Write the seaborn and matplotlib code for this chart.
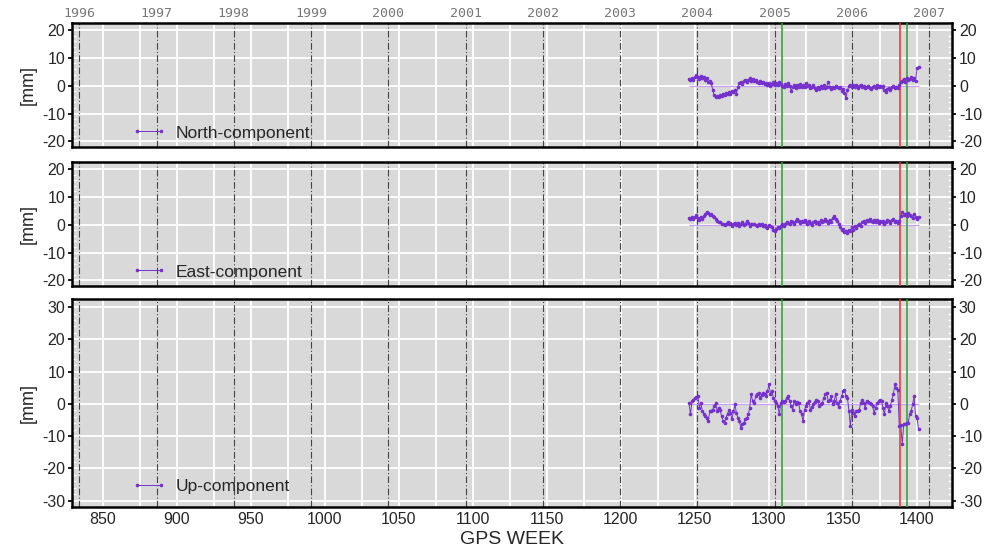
import matplotlib.pyplot as plt
import matplotlib as mpl
import numpy as np
import pandas as pd
import seaborn as sns
from matplotlib.ticker import MultipleLocator

# GPS weeks of the weekly solutions
first_week = 1246
last_week = 1401

north = [2.5, 2.0, 2.8, 2.2, 3.0, 3.8, 3.2, 2.5, 3.4, 2.8,
         3.0, 2.2, 2.6, 1.5, 1.8, 1.0, -1.5, -3.5, -4.2, -3.6,
         -4.0, -3.2, -3.8, -2.8, -3.4, -2.6, -3.0, -2.2, -2.8, -1.8,
         -2.4, -1.5, -2.8, -0.5, 0.8, 1.5, 0.6, 1.8, 2.2, 1.4,
         2.0, 2.6, 1.8, 2.4, 1.6, 2.2, 1.5, 1.0, 1.8, 0.8,
         1.2, 0.5, 1.0, 0.2, 0.8, -0.2, 0.5, 1.2, 0.3, 1.0,
         0.2, 1.5, 0.5, 0.0, -0.5, 0.6, -0.2, 0.8, 0.0, -1.8,
         -0.5, 0.2, -0.8, 0.4, -0.3, 0.6, -0.6, 0.2, -0.4, 0.8,
         -0.2, 0.3, -1.0, -0.4, 0.2, -0.8, -1.5, -0.6, -1.2, -0.2,
         -0.8, 0.2, -1.0, -0.5, 1.5, -0.6, -1.2, -0.4, -0.9, 0.0,
         -0.6, -1.0, -0.4, -1.8, -1.2, -2.5, -4.5, -1.5, -0.2, 0.2,
         -0.5, 0.3, -0.4, 0.1, -0.8, -0.2, 0.4, -0.6, -0.2, -1.0,
         -0.4, 0.0, -0.8, -1.2, -0.5, -0.2, -0.8, 0.2, -0.4, 0.0,
         -0.6, -0.2, -1.5, -2.2, -1.2, -0.8, -1.6, -0.6, -0.2, -1.0,
         -0.4, -0.8, 0.2, 1.2, 1.8, 2.4, 1.5, 2.8, 2.0, 2.5,
         3.0, 2.2, 2.6, 1.8, 6.2, 6.8]

east = [2.5, 2.2, 2.8, 2.0, 2.6, 3.4, 2.4, 1.8, 2.6, 2.2,
        3.2, 3.8, 4.5, 4.2, 3.6, 4.0, 3.2, 2.6, 2.0, 1.4,
        0.8, 1.0, 0.4, 0.2, -0.2, 0.4, 0.8, 0.2, 0.6, -0.4,
        0.2, 0.7, 0.0, 0.5, -0.5, 0.4, 0.9, -0.2, 0.3, 1.2,
        0.6, -0.3, 0.2, 0.4, 0.1, -0.2, -0.4, 0.2, -0.1, 0.3,
        -0.5, 0.0, -0.8, -1.2, -0.2, -0.6, -1.0, -1.8, -2.4, -1.5,
        -0.8, -1.2, -0.4, 0.2, -0.5, 0.4, 1.0, 0.6, 0.2, 1.2,
        0.8, 0.4, 1.5, 2.0, 1.2, 0.6, 1.4, 0.8, 1.8, 1.0,
        0.4, 1.2, 0.6, -0.2, 0.8, 1.4, 0.5, 1.0, 0.2, 1.6,
        0.8, 1.2, 2.2, 1.4, 0.6, 1.8, 1.0, 2.4, 3.0, 2.0,
        1.2, 0.4, -1.0, -2.0, -1.4, -2.8, -2.2, -3.0, -1.8, -2.4,
        -1.0, -1.8, -0.6, -1.2, -0.2, 0.4, -0.4, 0.8, 1.4, 0.6,
        1.6, 1.2, 2.0, 1.4, 0.8, 1.6, 1.0, 1.8, 0.6, 1.2,
        0.8, 1.4, 0.4, 1.0, 1.8, 1.2, 0.6, 1.6, 2.0, 1.0,
        1.4, 0.6, 1.2, 3.0, 4.5, 3.5, 4.0, 3.2, 4.2, 3.6,
        3.0, 2.4, 3.8, 2.8, 2.0, 2.6]

up = [0.3, -3.3, 0.8, 1.3, 1.9, 2.1, 2.4, -1.2, 0.3, -2.3,
      -3.1, -3.8, -4.5, -5.4, -2.3, -2.1, -1.8, -0.7, 0.3, -2.3,
      -1.2, -1.8, -3.8, -5.4, -5.9, -4.3, -3.1, -1.8, -2.8, -4.8,
      -2.3, -0.2, -2.8, -4.3, -5.4, -7.4, -6.4, -5.9, -4.8, -4.5,
      -3.3, -1.2, 2.9, 0.8, 0.3, 2.4, 2.9, 3.4, 1.9, 2.7,
      3.4, 2.9, 2.4, 3.9, 6.0, 2.9, 3.9, 1.9, 0.8, 0.3,
      -0.7, -3.3, 0.3, 0.8, 0.6, 0.8, 1.9, 2.4, 0.8, -0.7,
      -1.8, 0.8, -0.2, 0.6, 0.3, -2.3, -3.3, -5.4, -1.8, -0.7,
      0.3, 0.8, -1.8, -1.0, -0.2, 0.6, 1.3, 1.0, -0.7, 0.0,
      0.3, 1.9, 2.9, 3.4, 0.8, 1.3, 2.4, -0.2, 0.8, 2.9,
      0.3, -1.0, 0.8, 2.4, 3.9, 4.4, 2.4, 1.9, -2.3, -6.9,
      -1.8, -2.8, -3.8, -2.3, -2.1, -1.8, 0.3, 1.3, 0.3, -1.2,
      0.8, 0.6, 0.3, -0.2, -0.7, -2.8, -1.2, 0.3, 0.8, 1.3,
      0.8, -1.2, -3.3, 0.3, -0.7, -2.3, -0.7, 1.3, 2.9, 6.0,
      4.9, 4.4, -6.9, -6.6, -12.6, -6.4, -6.2, -5.9, -5.9, -3.3,
      -2.3, -0.2, 2.4, -3.8, -4.3, -7.9]

components = ['North-component', 'East-component', 'Up-component']
years = list(range(1996, 2008))
green_weeks = [1309, 1393]
red_weeks = [1388.5]

weeks = np.arange(first_week, last_week + 1)
df = pd.DataFrame({'week': weeks, 'North-component': north,
                   'East-component': east, 'Up-component': up})

# GPS week of Jan 1st of each year
gps0 = pd.Timestamp('1980-01-06')
year_weeks = [(pd.Timestamp(f'{y}-01-01') - gps0).days / 7 for y in years]

sns.set_theme(style='darkgrid', rc={'axes.facecolor': '#d9d9d9',
                                    'grid.color': 'white', 'grid.linewidth': 1.3})
plt.rcParams['font.family'] = ['Liberation Sans', 'DejaVu Sans']
plt.rcParams['axes.unicode_minus'] = False

purple = '#7431cc'

fig = plt.figure(figsize=(9.98, 5.52), dpi=100)
left, width = 0.0721, 0.8818
boxes = [(0.7337, 0.2246), (0.4819, 0.2246), (0.0815, 0.3768)]
ylims = [(-22, 22.5), (-22, 22.5), (-32, 32.5)]
yticks = [[-20, -10, 0, 10, 20], [-20, -10, 0, 10, 20],
          [-30, -20, -10, 0, 10, 20, 30]]
legend_y = [0.113, 0.113, 0.10]

axes = []
for i, comp in enumerate(components):
    ax = fig.add_axes([left, boxes[i][0], width, boxes[i][1]])
    axes.append(ax)
    ax.set_xlim(829.3, 1423.6)
    ax.set_ylim(*ylims[i])
    ax.xaxis.set_major_locator(MultipleLocator(50))
    ax.xaxis.set_minor_locator(MultipleLocator(25))
    ax.set_yticks(yticks[i])
    ax.yaxis.set_minor_locator(MultipleLocator(2))
    ax.grid(True, which='both', axis='x', color='white', lw=1.3)
    ax.grid(True, which='major', axis='y', color='white', lw=1.3)

    for yw in year_weeks:
        ax.axvline(yw, color='#444444', lw=0.8, dashes=(6, 2, 1, 2), zorder=1.5)
    for gw in green_weeks:
        ax.axvline(gw, color='#2ca02c', lw=1.1, zorder=3)
    for rw in red_weeks:
        ax.axvline(rw, color='#e8332a', lw=1.1, zorder=3)

    ax.hlines(0, weeks[0], weeks[-1], color='#c9a2ef', lw=0.9, zorder=2)
    sns.lineplot(data=df, x='week', y=comp, ax=ax, color=purple, lw=0.7,
                 marker='o', markersize=2.6, markeredgewidth=0, label=comp,
                 zorder=4)

    ax.legend(loc='center left', bbox_to_anchor=(0.068, legend_y[i]),
              frameon=False, numpoints=2, handlelength=2.0, borderpad=0,
              borderaxespad=0, handletextpad=0.5, fontsize=12.5)

    ax.set_xlabel('')
    ax.set_ylabel('[mm]', fontsize=13, labelpad=4)
    ax.tick_params(axis='y', which='major', direction='out', length=3,
                   color='black', labelsize=11.5, left=True, right=True,
                   labelleft=True, labelright=True, pad=2)
    ax.tick_params(axis='y', which='minor', direction='in', length=3,
                   color='white', left=True, right=True)
    ax.tick_params(axis='x', which='both', length=0, labelsize=11.5)
    if i < 2:
        ax.tick_params(axis='x', labelbottom=False)
    for s in ax.spines.values():
        s.set_visible(True)
        s.set_color('black')
        s.set_linewidth(1.8)

axes[2].set_xlabel('GPS WEEK', fontsize=14, labelpad=3)

top = axes[0].secondary_xaxis('top')
top.set_xticks(year_weeks)
top.set_xticklabels([str(y) for y in years], family='DejaVu Sans Mono',
                    color='#777777', fontsize=9.5)
top.tick_params(length=0, pad=2)
top.spines['top'].set_visible(False)

fig.savefig('out.png', dpi=100)
